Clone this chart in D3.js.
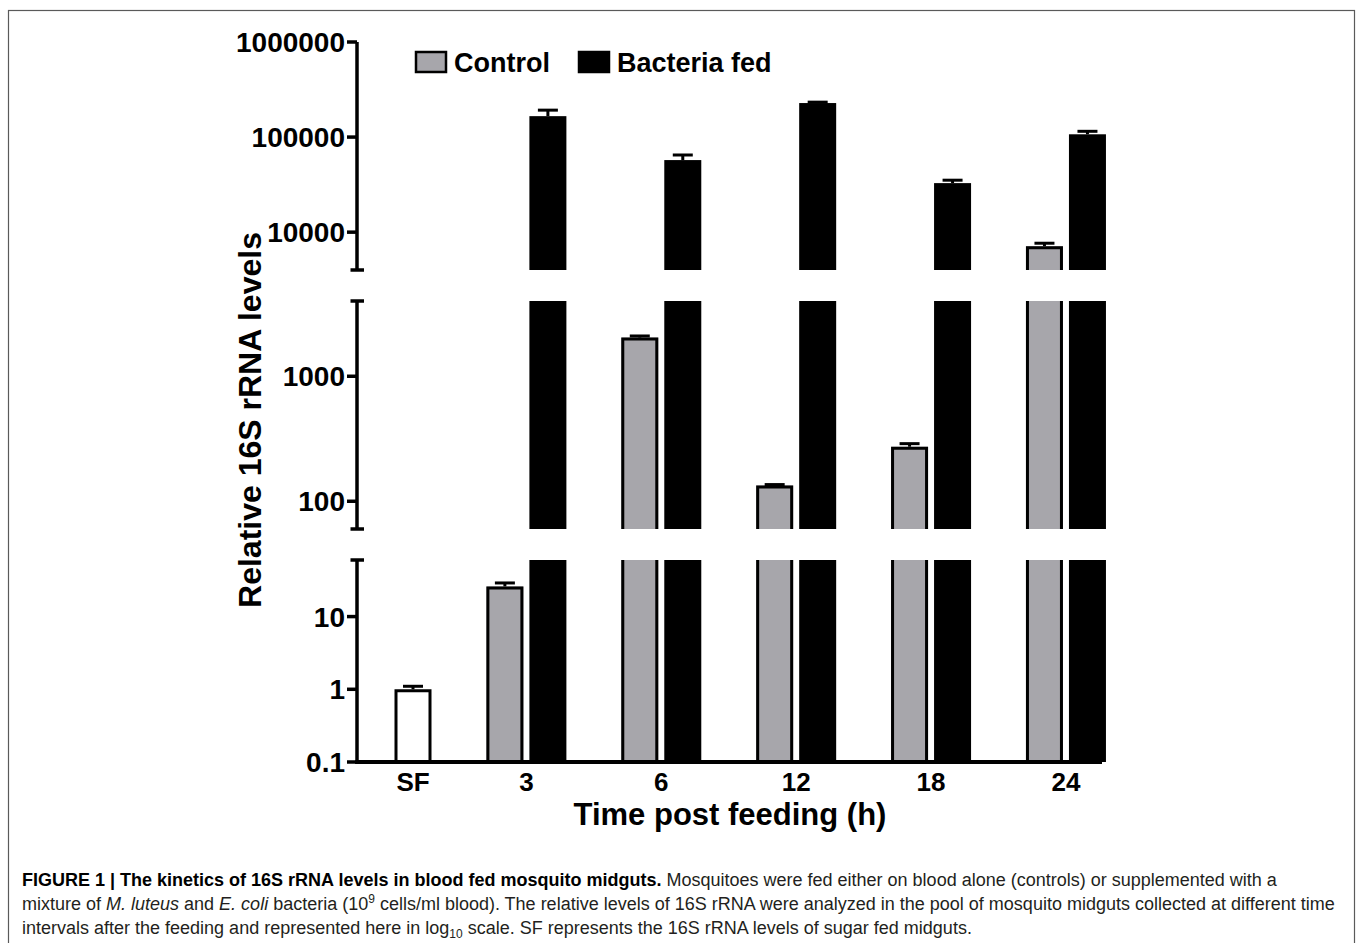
<!DOCTYPE html>
<html>
<head>
<meta charset="utf-8">
<script src="https://cdn.jsdelivr.net/npm/d3@7"></script>
<style>
  html, body { margin: 0; padding: 0; background: #fff; }
  svg { display: block; }
</style>
</head>
<body>
<svg id="chart" width="1358" height="943"></svg>
<script>
// ---------------- DATA ----------------
const categories = ["SF", "3", "6", "12", "18", "24"];
const sugarFed      = [1.0, null, null, null, null, null];
const sugarFedErr   = [1.1, null, null, null, null, null];
const control       = [null, 26, 2040, 134, 273, 7130];
const controlErr    = [null, 29, 2100, 136, 289, 7650];
const bacteria      = [null, 166000, 57300, 228000, 32800, 107000];
const bacteriaErr   = [null, 192000, 64800, 233000, 35200, 115000];
const seriesNames   = ["Control", "Bacteria fed"];
// broken log axis: three segments
const segDomains    = [[4000, 1000000], [60, 4000], [0.1, 60]];
const segTicks      = [[1000000, 100000, 10000], [1000, 100], [10, 1, 0.1]];
const tickLabels    = [["1000000", "100000", "10000"], ["1000", "100"], ["10", "1", "0.1"]];

// ---------------- LAYOUT ----------------
const svg = d3.select("#chart");
const FONT = "'Liberation Sans', Arial, Helvetica, sans-serif";
const axisX = 357;
const segRanges = [[270, 42], [529, 301], [762, 560]];
const segs = segDomains.map((d, i) => ({
  scale: d3.scaleLog().domain(d).range(segRanges[i]),
  ticks: segTicks[i], labels: tickLabels[i]
}));

const grayFill = "#a7a6ab";
const barW = 37;
const groupGap = 1.137;
const xSlot = d3.scaleLinear().domain([0, 1]).range([413, 456]);

// frame
svg.append("rect").attr("x", 8.5).attr("y", 10.5).attr("width", 1346).attr("height", 1000)
  .attr("fill", "none").attr("stroke", "#5a5a5a").attr("stroke-width", 1.2);

// build bars with slots
const bars = [];
const groupCenters = [];
let slot = 0;
categories.forEach((c, i) => {
  const members = [];
  if (sugarFed[i] != null) members.push({v: sugarFed[i], e: sugarFedErr[i], fill: "#ffffff", stroke: "#000"});
  if (control[i] != null) members.push({v: control[i], e: controlErr[i], fill: grayFill, stroke: "#000"});
  if (bacteria[i] != null) members.push({v: bacteria[i], e: bacteriaErr[i], fill: "#000", stroke: null});
  const slots = [];
  members.forEach(m => { m.slot = slot; slots.push(slot); bars.push(m); slot += 1; });
  groupCenters.push(d3.mean(slots));
  slot += groupGap;
});

const gBars = svg.append("g");
bars.forEach(b => {
  const cx = xSlot(b.slot);
  const x0 = cx - barW / 2, x1 = cx + barW / 2;
  segs.forEach(s => {
    const [dmin, dmax] = s.scale.domain();
    if (b.v <= dmin) return;
    const capped = b.v <= dmax;
    const yb = s.scale(dmin);
    const yt = s.scale(Math.min(b.v, dmax));
    gBars.append("rect").attr("x", x0).attr("y", yt).attr("width", barW).attr("height", yb - yt)
      .attr("fill", b.fill);
    if (b.stroke) {
      const inset = 1.5;
      const p = d3.path();
      p.moveTo(x0 + inset, yb); p.lineTo(x0 + inset, yt + (capped ? inset : 0));
      if (capped) { p.lineTo(x1 - inset, yt + inset); } else { p.moveTo(x1 - inset, yt); }
      p.lineTo(x1 - inset, yb);
      gBars.append("path").attr("d", p.toString()).attr("fill", "none")
        .attr("stroke", b.stroke).attr("stroke-width", 3);
    }
    // error bar (upper)
    if (capped && b.e != null) {
      const ye = s.scale(Math.min(b.e, dmax));
      gBars.append("line").attr("x1", cx).attr("x2", cx).attr("y1", yt).attr("y2", ye)
        .attr("stroke", "#000").attr("stroke-width", 3);
      gBars.append("line").attr("x1", cx - 10).attr("x2", cx + 10).attr("y1", ye).attr("y2", ye)
        .attr("stroke", "#000").attr("stroke-width", 3);
    }
  });
});

// y axis segments
const gAxis = svg.append("g");
segs.forEach((s, i) => {
  const [y0, y1] = s.scale.range();
  gAxis.append("line").attr("x1", axisX).attr("x2", axisX).attr("y1", y0 + (i === 2 ? 2 : 0)).attr("y2", y1)
    .attr("stroke", "#000").attr("stroke-width", 3.5);
  s.ticks.forEach((t, k) => {
    const y = s.scale(t);
    gAxis.append("line").attr("x1", axisX - 10).attr("x2", axisX).attr("y1", y).attr("y2", y)
      .attr("stroke", "#000").attr("stroke-width", 3.5);
    gAxis.append("text").attr("x", axisX - 12).attr("y", y).attr("dy", "0.36em")
      .attr("text-anchor", "end").attr("font-family", FONT).attr("font-weight", "bold")
      .attr("font-size", 28).attr("fill", "#000").text(s.labels[k]);
  });
  // break caps
  const caps = [];
  if (i > 0) caps.push(y1);
  if (i < segs.length - 1) caps.push(y0);
  caps.forEach(y => {
    gAxis.append("line").attr("x1", axisX - 6.5).attr("x2", axisX + 7).attr("y1", y).attr("y2", y)
      .attr("stroke", "#000").attr("stroke-width", 3.5);
  });
});

// x axis
const xAxisY = segs[2].scale(segDomains[2][0]);
gAxis.append("line").attr("x1", axisX - 1.75).attr("x2", 1102).attr("y1", xAxisY).attr("y2", xAxisY)
  .attr("stroke", "#000").attr("stroke-width", 4);
categories.forEach((c, i) => {
  gAxis.append("text").attr("x", xSlot(groupCenters[i])).attr("y", 791)
    .attr("text-anchor", "middle").attr("font-family", FONT).attr("font-weight", "bold")
    .attr("font-size", 26).attr("fill", "#000").text(c);
});

// axis titles
svg.append("text").attr("x", 730).attr("y", 825).attr("text-anchor", "middle")
  .attr("font-family", FONT).attr("font-weight", "bold").attr("font-size", 31).attr("fill", "#000")
  .text("Time post feeding (h)");
svg.append("text").attr("transform", "translate(261,420) rotate(-90)").attr("text-anchor", "middle")
  .attr("font-family", FONT).attr("font-weight", "bold").attr("font-size", 32).attr("fill", "#000")
  .text("Relative 16S rRNA levels");

// legend
const legendItems = [
  {name: seriesNames[0], fill: grayFill, stroke: "#000", x: 416},
  {name: seriesNames[1], fill: "#000", stroke: "#000", x: 579}
];
legendItems.forEach(l => {
  svg.append("rect").attr("x", l.x).attr("y", 52).attr("width", 30).attr("height", 20)
    .attr("fill", l.fill).attr("stroke", l.stroke).attr("stroke-width", 2.5);
  svg.append("text").attr("x", l.x + 38).attr("y", 72).attr("font-family", FONT)
    .attr("font-weight", "bold").attr("font-size", 27).attr("fill", "#000").text(l.name);
});

// caption
const cap = svg.append("g").attr("font-family", FONT).attr("font-size", 18).attr("fill", "#231f20");
const l1 = cap.append("text").attr("x", 22).attr("y", 886);
l1.append("tspan").attr("font-weight", "bold").attr("fill", "#000")
  .text("FIGURE 1 | The kinetics of 16S rRNA levels in blood fed mosquito midguts.");
l1.append("tspan").text(" Mosquitoes were fed either on blood alone (controls) or supplemented with a");
const l2 = cap.append("text").attr("x", 22).attr("y", 910);
l2.append("tspan").text("mixture of ");
l2.append("tspan").attr("font-style", "italic").text("M. luteus");
l2.append("tspan").text(" and ");
l2.append("tspan").attr("font-style", "italic").text("E. coli");
l2.append("tspan").text(" bacteria (10");
l2.append("tspan").attr("font-size", 12).attr("dy", -7).text("9");
l2.append("tspan").attr("dy", 7).text(" cells/ml blood). The relative levels of 16S rRNA were analyzed in the pool of mosquito midguts collected at different time");
const l3 = cap.append("text").attr("x", 22).attr("y", 934);
l3.append("tspan").text("intervals after the feeding and represented here in log");
l3.append("tspan").attr("font-size", 12).attr("dy", 4).text("10");
l3.append("tspan").attr("dy", -4).text(" scale. SF represents the 16S rRNA levels of sugar fed midguts.");
</script>
</body>
</html>
